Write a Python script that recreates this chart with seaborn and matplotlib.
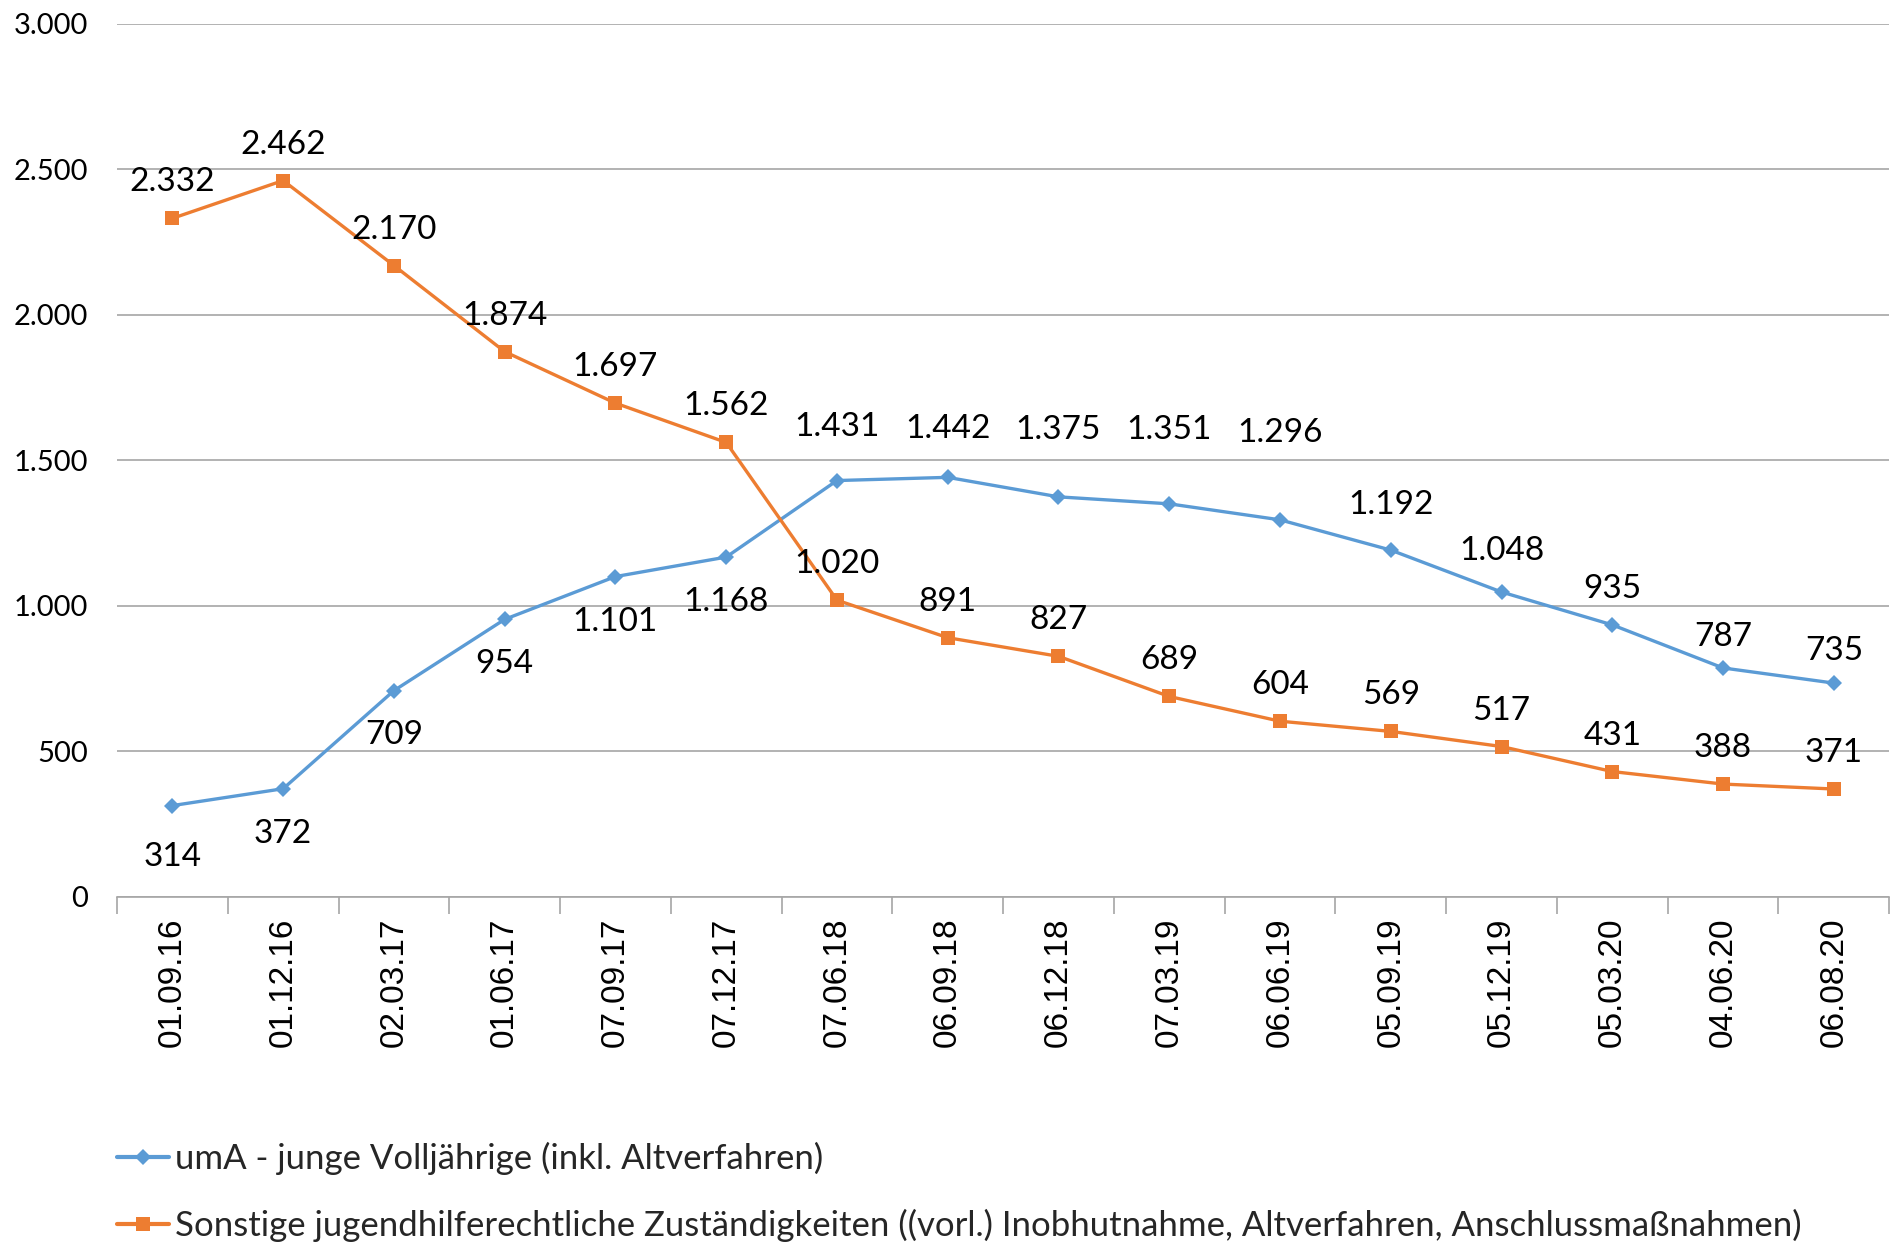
import matplotlib
matplotlib.use("Agg")
import matplotlib.pyplot as plt
from matplotlib.lines import Line2D
from matplotlib.ticker import FuncFormatter, FixedLocator
import seaborn as sns
import pandas as pd

dates = ["01.09.16", "01.12.16", "02.03.17", "01.06.17", "07.09.17", "07.12.17",
         "07.06.18", "06.09.18", "06.12.18", "07.03.19", "06.06.19", "05.09.19",
         "05.12.19", "05.03.20", "04.06.20", "06.08.20"]
uma = [314, 372, 709, 954, 1101, 1168, 1431, 1442, 1375, 1351, 1296, 1192,
       1048, 935, 787, 735]
sonstige = [2332, 2462, 2170, 1874, 1697, 1562, 1020, 891, 827, 689, 604, 569,
            517, 431, 388, 371]

name_uma = "umA - junge Volljährige (inkl. Altverfahren)"
name_son = ("Sonstige jugendhilferechtliche Zuständigkeiten ((vorl.) Inobhutnahme, "
            "Altverfahren, Anschlussmaßnahmen)")

# label offsets in pixels (negative = below the point), as placed in the original
uma_label_off = [-51, -45, -44, -45, -45, -45, 54, 48, 67, 74, 87, 45, 41, 36, 31, 32]
son_label_off = [36] * len(sonstige)

blue = "#5B9BD5"
orange = "#ED7D31"
grid = "#A6A6A6"

sns.set_theme(style="white")
plt.rcParams["font.family"] = ["Lato", "DejaVu Sans"]

df = pd.DataFrame({"datum": dates, "uma": uma, "sonstige": sonstige})
df["x"] = range(len(dates))

fig, ax = plt.subplots(figsize=(18.93, 12.42), dpi=100)
fig.subplots_adjust(left=0.0618, right=0.998, top=0.9807, bottom=0.2778)

sns.lineplot(data=df, x="x", y="uma", ax=ax, color=blue, marker="D",
             markersize=8.5, linewidth=2.4, markeredgewidth=0, sort=False)
sns.lineplot(data=df, x="x", y="sonstige", ax=ax, color=orange, marker="s",
             markersize=10.5, linewidth=2.4, markeredgewidth=0, sort=False)

fmt = lambda v: f"{int(v):,}".replace(",", ".")

for i, v in enumerate(uma):
    ax.annotate(fmt(v), (i, v), xytext=(0, uma_label_off[i]), textcoords="offset pixels",
                ha="center", va="center", fontsize=24, color="black")
for i, v in enumerate(sonstige):
    ax.annotate(fmt(v), (i, v), xytext=(0, son_label_off[i]), textcoords="offset pixels",
                ha="center", va="center", fontsize=24, color="black")

ax.set_xlim(-0.5, len(dates) - 0.5)
ax.set_ylim(0, 3000)
ax.set_yticks(range(0, 3001, 500))
ax.yaxis.set_major_formatter(FuncFormatter(lambda v, p: fmt(v)))
ax.grid(axis="y", color=grid, linewidth=1.2)
ax.grid(axis="x", visible=False)

ax.set_xticks(range(len(dates)))
ax.set_xticklabels(dates, rotation=90, fontsize=24,
                   fontfamily=["Liberation Sans", "DejaVu Sans"])
ax.xaxis.set_minor_locator(FixedLocator([i - 0.5 for i in range(len(dates) + 1)]))
ax.tick_params(axis="x", which="major", length=0, pad=15, colors="black")
ax.tick_params(axis="x", which="minor", length=12, width=1.2, color=grid,
               direction="out", bottom=True)
ax.tick_params(axis="y", length=0, pad=21, labelsize=21, colors="black")

for s in ["left", "right", "top"]:
    ax.spines[s].set_visible(False)
ax.spines["bottom"].set_color(grid)
ax.spines["bottom"].set_linewidth(1.2)

ax.set_xlabel("")
ax.set_ylabel("")

handles = [
    Line2D([], [], color=blue, marker="D", markersize=8.5, linewidth=3,
           markeredgewidth=0, label=name_uma),
    Line2D([], [], color=orange, marker="s", markersize=10.5, linewidth=3,
           markeredgewidth=0, label=name_son),
]
leg = fig.legend(handles=handles, loc="upper left", bbox_to_anchor=(0.0618, 0.0805),
                 frameon=False, handlelength=1.5, handletextpad=0.17,
                 labelspacing=0.97, borderaxespad=0, borderpad=0,
                 prop={"size": 25})

fig.savefig("out.png", dpi=100)
